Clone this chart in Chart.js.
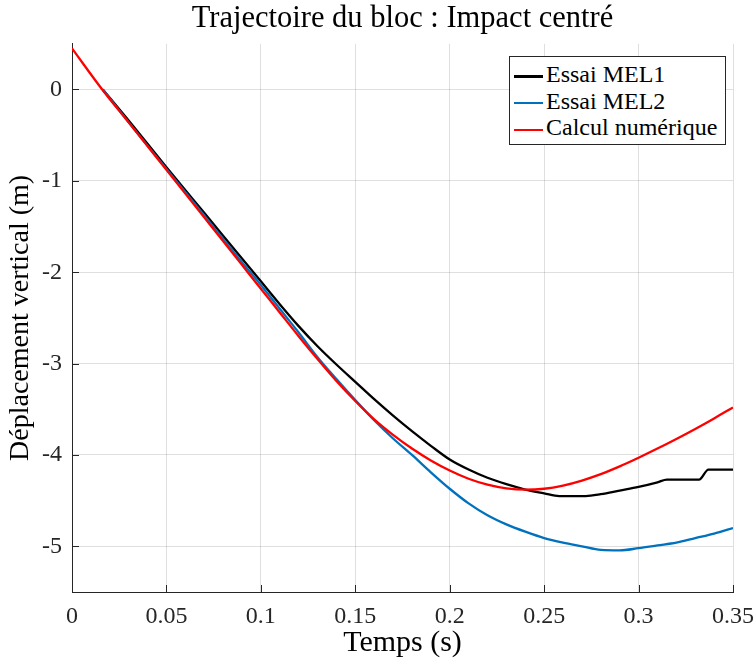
<!DOCTYPE html>
<html>
<head>
<meta charset="utf-8">
<script src="https://cdn.jsdelivr.net/npm/chart.js@4"></script>
<style>
  body { margin: 0; background: #fff; }
  #wrap { position: relative; width: 756px; height: 662px; }
  #legend {
    position: absolute; left: 509px; top: 56px; width: 217px;
    border: 1px solid #262626; background: #fff;
    padding: 4px 0 3px 0; box-sizing: border-box;
    font-family: 'Liberation Serif', serif; font-size: 24px; color: #000;
  }
  #legend div { height: 26.7px; line-height: 26.7px; white-space: nowrap; }
  #legend span.l { display: inline-block; width: 29px; height: 2.5px; margin: 0 3px 0 4px; vertical-align: middle; }
</style>
</head>
<body>
<div id="wrap">
  <canvas id="chart1" width="756" height="662"></canvas>
  <div id="legend"></div>
</div>
<script>
// Essai MEL1
const tMel1 = [0.0163, 0.03, 0.05, 0.07, 0.09, 0.1, 0.11, 0.12, 0.13, 0.14, 0.15, 0.16, 0.17, 0.18, 0.19, 0.2,
    0.21, 0.22, 0.23, 0.24, 0.25, 0.258, 0.272, 0.28, 0.29, 0.3, 0.31, 0.315, 0.332, 0.337, 0.35];
const yMel1 = [0, -0.34, -0.85, -1.35, -1.85, -2.1, -2.35, -2.59, -2.81, -3.01, -3.2, -3.39, -3.57, -3.74, -3.9, -4.05,
    -4.16, -4.25, -4.32, -4.38, -4.42, -4.45, -4.45, -4.43, -4.39, -4.35, -4.3, -4.27, -4.27, -4.16, -4.16];

// Essai MEL2
const tMel2 = [0.0163, 0.03, 0.05, 0.07, 0.09, 0.1, 0.11, 0.12, 0.13, 0.14, 0.15, 0.16, 0.17, 0.18, 0.19, 0.2,
    0.21, 0.22, 0.23, 0.24, 0.25, 0.26, 0.27, 0.28, 0.29, 0.3, 0.31, 0.32, 0.33, 0.34, 0.35];
const yMel2 = [0, -0.36, -0.87, -1.38, -1.89, -2.14, -2.4, -2.66, -2.93, -3.17, -3.4, -3.62, -3.82, -4.0, -4.19, -4.37,
    -4.53, -4.66, -4.76, -4.84, -4.91, -4.96, -5.0, -5.04, -5.045, -5.02, -4.99, -4.96, -4.91, -4.86, -4.8];

// Calcul numérique
const tCalc = [0, 0.016, 0.03, 0.05, 0.07, 0.09, 0.1, 0.11, 0.12, 0.13, 0.14, 0.15, 0.16, 0.17, 0.18, 0.19, 0.2,
    0.21, 0.22, 0.23, 0.24, 0.25, 0.26, 0.27, 0.28, 0.29, 0.3, 0.31, 0.32, 0.33, 0.34, 0.35];
const yCalc = [0.45, 0, -0.36, -0.88, -1.4, -1.92, -2.18, -2.44, -2.7, -2.95, -3.19, -3.41, -3.61, -3.78, -3.93, -4.06, -4.17,
    -4.26, -4.325, -4.365, -4.38, -4.37, -4.335, -4.28, -4.21, -4.125, -4.03, -3.93, -3.825, -3.715, -3.6, -3.48];

const xTicks = [0, 0.05, 0.1, 0.15, 0.2, 0.25, 0.3, 0.35];
const xTickLabels = ['0', '0.05', '0.1', '0.15', '0.2', '0.25', '0.3', '0.35'];
const yTicks = [-5, -4, -3, -2, -1, 0];
const yTickLabels = ['-5', '-4', '-3', '-2', '-1', '0'];

const series = [
    { label: 'Essai MEL1', t: tMel1, y: yMel1, color: '#000000', order: 3 },
    { label: 'Essai MEL2', t: tMel2, y: yMel2, color: '#0072BD', order: 2 },
    { label: 'Calcul numérique', t: tCalc, y: yCalc, color: '#FF0000', order: 1 }
];

const serif = "'Liberation Serif', serif";
const axisColor = '#262626';
const gridColor = 'rgba(38,38,38,0.15)';

// ticks vers l'intérieur, comme MATLAB
const innerTicks = {
    id: 'innerTicks',
    afterDraw(chart) {
        const { ctx, chartArea, scales } = chart;
        ctx.save();
        ctx.strokeStyle = axisColor;
        ctx.lineWidth = 1;
        ctx.beginPath();
        scales.x.ticks.forEach(tk => {
            const px = Math.round(scales.x.getPixelForValue(tk.value)) + 0.5;
            ctx.moveTo(px, chartArea.bottom);
            ctx.lineTo(px, chartArea.bottom - 7);
        });
        scales.y.ticks.forEach(tk => {
            const py = Math.round(scales.y.getPixelForValue(tk.value)) + 0.5;
            ctx.moveTo(chartArea.left, py);
            ctx.lineTo(chartArea.left + 7, py);
        });
        ctx.stroke();
        ctx.restore();
    }
};

new Chart(document.getElementById('chart1').getContext('2d'), {
    type: 'line',
    data: {
        datasets: series.map(s => ({
            label: s.label,
            data: s.t.map((t, i) => ({ x: t, y: s.y[i] })),
            borderColor: s.color,
            backgroundColor: s.color,
            borderWidth: 2.3,
            pointRadius: 0,
            fill: false,
            cubicInterpolationMode: 'monotone',
            order: s.order
        }))
    },
    plugins: [innerTicks],
    options: {
        responsive: false,
        animation: false,
        devicePixelRatio: 1,
        layout: { padding: { left: 0, right: 23, top: 0, bottom: 0 } },
        plugins: {
            legend: { display: false },
            tooltip: { enabled: false },
            title: {
                display: true,
                fullSize: false,
                text: 'Trajectoire du bloc : Impact centré',
                color: '#000',
                font: { family: serif, size: 30.5, weight: 'normal' },
                padding: { top: 1, bottom: 6.2 }
            }
        },
        scales: {
            x: {
                type: 'linear',
                min: 0,
                max: 0.35,
                afterBuildTicks: s => { s.ticks = xTicks.map(v => ({ value: v })); },
                afterFit: s => { s.height = 70; s.paddingLeft = 0; s.paddingRight = 0; },
                ticks: {
                    color: axisColor,
                    font: { family: serif, size: 24 },
                    padding: 10,
                    maxRotation: 0,
                    callback: (v, i) => xTickLabels[i]
                },
                grid: { color: gridColor, drawTicks: false },
                border: { color: axisColor, width: 1 },
                title: {
                    display: true,
                    text: 'Temps (s)',
                    color: '#000',
                    font: { family: serif, size: 30 },
                    padding: { top: 0, bottom: 1 }
                }
            },
            y: {
                min: -5.5,
                max: 0.5,
                afterBuildTicks: s => { s.ticks = yTicks.map(v => ({ value: v })); },
                afterFit: s => { s.width = 72; },
                ticks: {
                    color: axisColor,
                    font: { family: serif, size: 24 },
                    padding: 10,
                    callback: (v, i) => yTickLabels[i]
                },
                grid: { color: gridColor, drawTicks: false },
                border: { color: axisColor, width: 1 },
                title: {
                    display: true,
                    text: 'Déplacement vertical (m)',
                    color: '#000',
                    font: { family: serif, size: 28 },
                    padding: { top: 4, bottom: 0 }
                }
            }
        }
    }
});

// légende en HTML, placée dans la zone du graphique
const legend = document.getElementById('legend');
series.forEach(s => {
    const row = document.createElement('div');
    row.innerHTML = '<span class="l" style="background:' + s.color + '"></span>' + s.label;
    legend.appendChild(row);
});
</script>
</body>
</html>
